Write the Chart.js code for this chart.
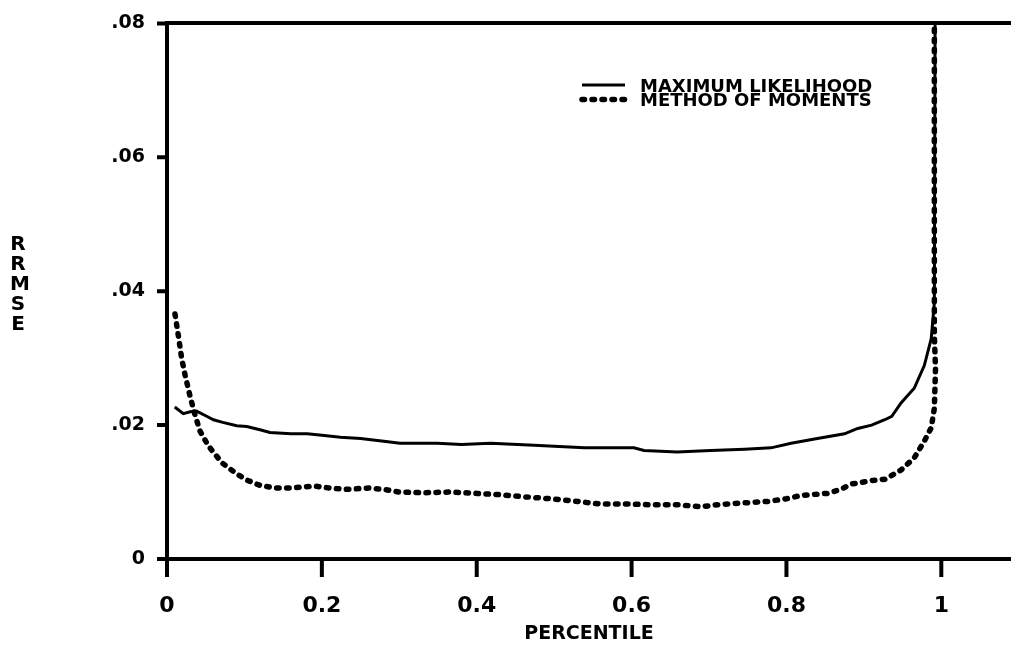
<!DOCTYPE html>
<html>
<head>
<meta charset="utf-8">
<script src="https://cdn.jsdelivr.net/npm/chart.js@4.4.1/dist/chart.umd.min.js"></script>
<style>
    html, body { margin: 0; padding: 0; background: #fff; }
    #wrap { position: relative; width: 1011px; height: 645px; }
    #ylab {
        position: absolute; left: 10px; top: 233px; width: 16px;
        font: bold 20px "DejaVu Sans"; line-height: 20px;
        text-align: center; color: #000;
    }
</style>
</head>
<body>
<div id="wrap">
    <canvas id="chart" width="1011" height="645"></canvas>
    <div id="ylab">R<br>R<br>M<br>S<br>E</div>
</div>
<script>
const seriesNames = ["MAXIMUM LIKELIHOOD", "METHOD OF MOMENTS"];

// maximum likelihood (solid)
const mlPct = [0.010, 0.021, 0.030, 0.038, 0.050, 0.060, 0.072, 0.090, 0.103, 0.120,
    0.133, 0.160, 0.181, 0.200, 0.224, 0.250, 0.280, 0.301, 0.349, 0.380,
    0.418, 0.474, 0.539, 0.603, 0.616, 0.659, 0.702, 0.746, 0.780, 0.806,
    0.840, 0.875, 0.892, 0.910, 0.927, 0.936, 0.948, 0.965, 0.978, 0.987,
    0.991, 0.992];
const mlRrmse = [0.0227, 0.0217, 0.0220, 0.0221, 0.0214, 0.0208, 0.0204, 0.0199, 0.0198, 0.0193,
    0.0189, 0.0187, 0.0187, 0.0185, 0.0182, 0.0180, 0.0176, 0.0173, 0.0173, 0.0171,
    0.0173, 0.0170, 0.0166, 0.0166, 0.0162, 0.0160, 0.0162, 0.0164, 0.0166, 0.0173,
    0.0180, 0.0187, 0.0195, 0.0200, 0.0208, 0.0213, 0.0233, 0.0255, 0.0289, 0.0329,
    0.0383, 0.0800];

// method of moments (dotted)
const mmPct = [0.0103, 0.0146, 0.019, 0.0233, 0.0298, 0.0362, 0.0427, 0.0534, 0.0707, 0.090,
    0.103, 0.120, 0.140, 0.160, 0.190, 0.210, 0.230, 0.260, 0.280, 0.300,
    0.330, 0.366, 0.400, 0.431, 0.460, 0.495, 0.530, 0.560, 0.600, 0.625,
    0.660, 0.690, 0.710, 0.733, 0.776, 0.800, 0.819, 0.853, 0.870, 0.884,
    0.910, 0.927, 0.948, 0.965, 0.978, 0.987, 0.991, 0.9925, 0.991, 0.991];
const mmRrmse = [0.0366, 0.0334, 0.0299, 0.0275, 0.0243, 0.0215, 0.0191, 0.0169, 0.0144, 0.0127,
    0.0118, 0.0110, 0.0106, 0.0106, 0.0109, 0.0106, 0.0104, 0.0106, 0.0104, 0.0100,
    0.0099, 0.0100, 0.0098, 0.0096, 0.0093, 0.0090, 0.0086, 0.0082, 0.0082, 0.0081,
    0.0081, 0.0078, 0.0081, 0.0083, 0.0086, 0.0090, 0.0095, 0.0098, 0.0104, 0.0112,
    0.0117, 0.0119, 0.0133, 0.0151, 0.0176, 0.0196, 0.0225, 0.0284, 0.0334, 0.0800];

const xTicks = [0, 0.2, 0.4, 0.6, 0.8, 1];
const xTickLabels = ["0", "0.2", "0.4", "0.6", "0.8", "1"];
const yTicks = [0, 0.02, 0.04, 0.06, 0.08];
const yTickLabels = ["0", ".02", ".04", ".06", ".08"];

const FONT = "DejaVu Sans";
const TICK_WIDTH = 4;
const X_TICK_LEN = 18;
const Y_TICK_LEN = 10;

const toPoints = (xs, ys) => xs.map((x, i) => ({ x: x, y: ys[i] }));

// outward tick marks, placed through the scales
const axisTicks = {
    id: "axisTicks",
    afterDraw(chart) {
        const ctx = chart.ctx;
        const area = chart.chartArea;
        const xs = chart.scales.x;
        const ys = chart.scales.y;
        ctx.save();
        ctx.setLineDash([]);
        ctx.strokeStyle = "#000";
        ctx.lineWidth = TICK_WIDTH;
        ctx.beginPath();
        xTicks.forEach(v => {
            const px = xs.getPixelForValue(v);
            ctx.moveTo(px, area.bottom);
            ctx.lineTo(px, area.bottom + X_TICK_LEN);
        });
        yTicks.forEach(v => {
            const py = ys.getPixelForValue(v);
            ctx.moveTo(area.left, py);
            ctx.lineTo(area.left - Y_TICK_LEN, py);
        });
        ctx.stroke();
        ctx.restore();
    }
};

// legend drawn inside the plot, top right, with line samples
const lineLegend = {
    id: "lineLegend",
    afterDraw(chart, args, opts) {
        const ctx = chart.ctx;
        ctx.save();
        chart.data.datasets.forEach((ds, i) => {
            const y = opts.top + i * opts.rowHeight;
            ctx.beginPath();
            ctx.strokeStyle = ds.borderColor;
            ctx.lineWidth = ds.borderWidth;
            ctx.lineCap = ds.borderCapStyle || "butt";
            ctx.setLineDash(ds.borderDash || []);
            ctx.moveTo(opts.left, y - 2);
            ctx.lineTo(opts.left + opts.sampleWidth, y - 2);
            ctx.stroke();
            ctx.setLineDash([]);
            ctx.fillStyle = "#000";
            ctx.font = "bold " + opts.fontSize + "px " + FONT;
            ctx.textBaseline = "middle";
            ctx.fillText(ds.label, opts.left + opts.sampleWidth + opts.gap, y);
        });
        ctx.restore();
    }
};

new Chart(document.getElementById("chart"), {
    type: "line",
    data: {
        datasets: [{
            label: seriesNames[0],
            data: toPoints(mlPct, mlRrmse),
            borderColor: "#000",
            borderWidth: 3,
            pointRadius: 0,
            tension: 0,
            xAxisID: "x"
        }, {
            label: seriesNames[1],
            data: toPoints(mmPct, mmRrmse),
            borderColor: "#000",
            borderWidth: 5.5,
            borderDash: [2.5, 7.5],
            borderCapStyle: "round",
            pointRadius: 0,
            tension: 0,
            xAxisID: "x"
        }]
    },
    options: {
        responsive: false,
        animation: false,
        layout: { padding: 0 },
        scales: {
            x: {
                type: "linear",
                position: "bottom",
                min: 0,
                max: 1.09,
                afterBuildTicks: scale => { scale.ticks = xTicks.map(v => ({ value: v })); },
                afterFit: scale => { scale.height = 86; },
                ticks: {
                    callback: (v, i) => xTickLabels[i],
                    font: { family: FONT, size: 22, weight: "bold" },
                    color: "#000",
                    padding: 16,
                    maxRotation: 0
                },
                grid: { drawOnChartArea: false, drawTicks: true, tickLength: X_TICK_LEN, tickWidth: 3, tickColor: "#000" },
                border: { display: true, color: "#000", width: 4 },
                title: {
                    display: true,
                    text: "PERCENTILE",
                    font: { family: FONT, size: 19, weight: "bold" },
                    color: "#000",
                    padding: 0
                }
            },
            xTop: {
                type: "linear",
                position: "top",
                min: 0,
                max: 1.09,
                afterFit: scale => { scale.height = 18; },
                ticks: { display: false },
                grid: { drawOnChartArea: false, drawTicks: false },
                border: { display: true, color: "#000", width: 4 }
            },
            y: {
                type: "linear",
                min: 0,
                max: 0.08,
                afterBuildTicks: scale => { scale.ticks = yTicks.map(v => ({ value: v })); },
                afterFit: scale => { scale.width = 167; },
                ticks: {
                    callback: (v, i) => yTickLabels[i],
                    font: { family: FONT, size: 19, weight: "bold" },
                    color: "#000",
                    padding: 12
                },
                grid: { drawOnChartArea: false, drawTicks: true, tickLength: Y_TICK_LEN, tickWidth: 3, tickColor: "#000" },
                border: { display: true, color: "#000", width: 4 }
            }
        },
        plugins: {
            legend: { display: false },
            tooltip: { enabled: false },
            lineLegend: { left: 582, top: 87, rowHeight: 14.5, sampleWidth: 43, gap: 15, fontSize: 18 }
        }
    },
    plugins: [axisTicks, lineLegend]
});
</script>
</body>
</html>
